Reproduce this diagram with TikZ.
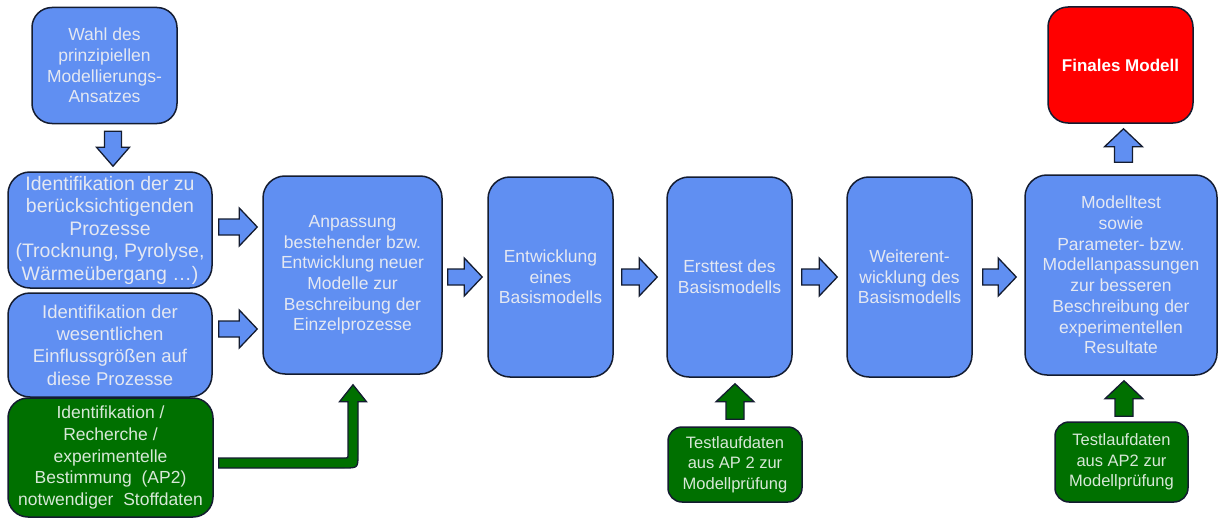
\documentclass[tikz,border=0pt]{standalone}
\usepackage{fontspec}
\setmainfont{Liberation Sans}
\usetikzlibrary{calc}
\definecolor{bfill}{RGB}{96,143,242}
\definecolor{gfill}{RGB}{0,112,0}
\definecolor{rfill}{RGB}{255,0,0}
\definecolor{edge}{RGB}{20,28,48}
\definecolor{btext}{RGB}{228,232,242}
\definecolor{gtext}{RGB}{215,232,215}
\newcommand\fsz[2]{\fontsize{#1}{#2}\selectfont}
% right block arrow: #1 tail (centre), #2 tip, #3 style
\newcommand\BArrowR[3]{\draw[#3] let \p1=(#1), \p2=(#2) in
  (\x1,\y1+8pt) -- (\x2-18pt,\y1+8pt) -- (\x2-18pt,\y1+19pt) -- (\x2,\y1)
  -- (\x2-18pt,\y1-19pt) -- (\x2-18pt,\y1-8pt) -- (\x1,\y1-8pt) -- cycle;}
% up block arrow (tip above tail)
\newcommand\BArrowU[3]{\draw[#3] let \p1=(#1), \p2=(#2) in
  (\x1-9pt,\y1) -- (\x1-9pt,\y2-18pt) -- (\x1-19pt,\y2-18pt) -- (\x1,\y2)
  -- (\x1+19pt,\y2-18pt) -- (\x1+9pt,\y2-18pt) -- (\x1+9pt,\y1) -- cycle;}
% down block arrow (tip below tail)
\newcommand\BArrowD[3]{\draw[#3] let \p1=(#1), \p2=(#2) in
  (\x1-8.5pt,\y1) -- (\x1-8.5pt,\y2+19pt) -- (\x1-16.5pt,\y2+19pt) -- (\x1,\y2)
  -- (\x1+16.5pt,\y2+19pt) -- (\x1+8.5pt,\y2+19pt) -- (\x1+8.5pt,\y1) -- cycle;}
\tikzset{
  box/.style={draw=edge, line width=1.5pt, rounded corners=22pt, align=center,
    inner sep=0pt, fill=bfill, text=btext},
  gbox/.style={box, fill=gfill, text=gtext, rounded corners=14pt},
  rbox/.style={box, fill=rfill, text=white, rounded corners=20pt},
  barrow/.style={draw=edge, line width=1.3pt, fill=bfill, line join=miter},
  garrow/.style={barrow, fill=gfill},
  big/.style={font=\fsz{19.5}{22.5}},
  mid/.style={font=\fsz{17.5}{20.7}},
  small/.style={font=\fsz{16.5}{20.7}},
}
\begin{document}
\begin{tikzpicture}[x=1pt,y=-1pt]
\useasboundingbox (0,0) rectangle (1219,519);
% left column
\node[box, mid, rounded corners=20pt, minimum width=145pt, minimum height=116pt] (wahl) at (104.5,65.5)
  {Wahl des\\prinzipiellen\\Modellierungs-\\Ansatzes};
\node[box, big, minimum width=204pt, minimum height=116pt] (id1) at (110,230)
  {Identifikation der zu\\berücksichtigenden\\Prozesse\\(Trocknung, Pyrolyse,\\Wärmeübergang …)};
\node[box, font=\fsz{18.5}{22.3}, minimum width=204pt, minimum height=104pt] (id2) at (110,345)
  {Identifikation der\\wesentlichen\\Einflussgrößen auf\\diese Prozesse};
\node[gbox, font=\fsz{17.5}{21.7}, rounded corners=20pt, minimum width=205pt, minimum height=119pt] (stoff) at (110.5,457.5)
  {Identifikation /\\Recherche /\\experimentelle\\Bestimmung \ (AP2)\\notwendiger \ Stoffdaten};
% main row
\node[box, mid, minimum width=179pt, minimum height=198pt] (anp) at (352.5,275)
  {Anpassung\\bestehender bzw.\\Entwicklung neuer\\Modelle zur\\Beschreibung der\\Einzelprozesse};
\node[box, mid, minimum width=125pt, minimum height=200pt] (entw) at (550.5,277)
  {Entwicklung\\eines\\Basismodells};
\node[box, mid, minimum width=125pt, minimum height=200pt] (erst) at (729.5,277)
  {Ersttest des\\Basismodells};
\node[box, mid, minimum width=125pt, minimum height=200pt] (weiter) at (909.5,277)
  {Weiterent-\\wicklung des\\Basismodells};
\node[box, mid, minimum width=192pt, minimum height=200pt] (mtest) at (1121,275)
  {Modelltest\\sowie\\Parameter- bzw.\\Modellanpassungen\\zur besseren\\Beschreibung der\\experimentellen\\Resultate};
\node[rbox, font=\fsz{17}{20}\bfseries, minimum width=145pt, minimum height=116pt] (final) at (1120.5,65)
  {Finales Modell};
% data boxes
\node[gbox, small, minimum width=134pt, minimum height=75pt] (test1) at (735,464.5)
  {Testlaufdaten\\aus AP 2 zur\\Modellprüfung};
\node[gbox, small, minimum width=133pt, minimum height=80pt] (test2) at (1121.5,462)
  {Testlaufdaten\\aus AP2 zur\\Modellprüfung};
% block arrows
\BArrowD{$(id1.north |- wahl.south)+(3,7)$}{$(id1.north)+(3,-5)$}{barrow}
\BArrowR{$(id1.east |- 0,227)+(6,0)$}{$(anp.west |- 0,227)+(-5,0)$}{barrow}
\BArrowR{$(id2.east |- 0,329)+(6,0)$}{$(anp.west |- 0,329)+(-5,0)$}{barrow}
\BArrowR{$(anp.east |- entw.west)+(5,0)$}{$(entw.west)+(-5,0)$}{barrow}
\BArrowR{$(entw.east)+(8,0)$}{$(erst.west)+(-9,0)$}{barrow}
\BArrowR{$(erst.east)+(9,0)$}{$(weiter.west)+(-9,0)$}{barrow}
\BArrowR{$(weiter.east)+(10,0)$}{$(mtest.west |- weiter.east)+(-8,0)$}{barrow}
\BArrowU{$(mtest.north -| final.south)+(3,-12)$}{$(final.south)+(3,5)$}{barrow}
\BArrowU{$(test1.north)+(0,-7)$}{$(erst.south -| test1.north)+(0,6)$}{garrow}
\BArrowU{$(test2.north)+(2.5,-5)$}{$(mtest.south -| test2.north)+(2.5,5)$}{garrow}
% bent green arrow from stoff to anp
\coordinate (bs) at ($(stoff.east)+(5,5.5)$);
\coordinate (bt) at ($(anp.south)+(0.5,10)$);
\draw[garrow] let \p1=(bs), \p2=(bt) in
  (\x1,\y1+5pt) -- (\x2-9pt,\y1+5pt) .. controls (\x2-5pt,\y1+5pt) .. (\x2-5pt,\y1+9pt)
  -- (\x2-5pt,\y2-17pt) -- (\x2-13.5pt,\y2-17pt) -- (\x2,\y2) -- (\x2+13.5pt,\y2-17pt)
  -- (\x2+5pt,\y2-17pt) -- (\x2+5pt,\y1-5pt+14pt) .. controls (\x2+5pt,\y1-5pt) .. (\x2+5pt-14pt,\y1-5pt)
  -- (\x1,\y1-5pt) -- cycle;
\end{tikzpicture}
\end{document}
